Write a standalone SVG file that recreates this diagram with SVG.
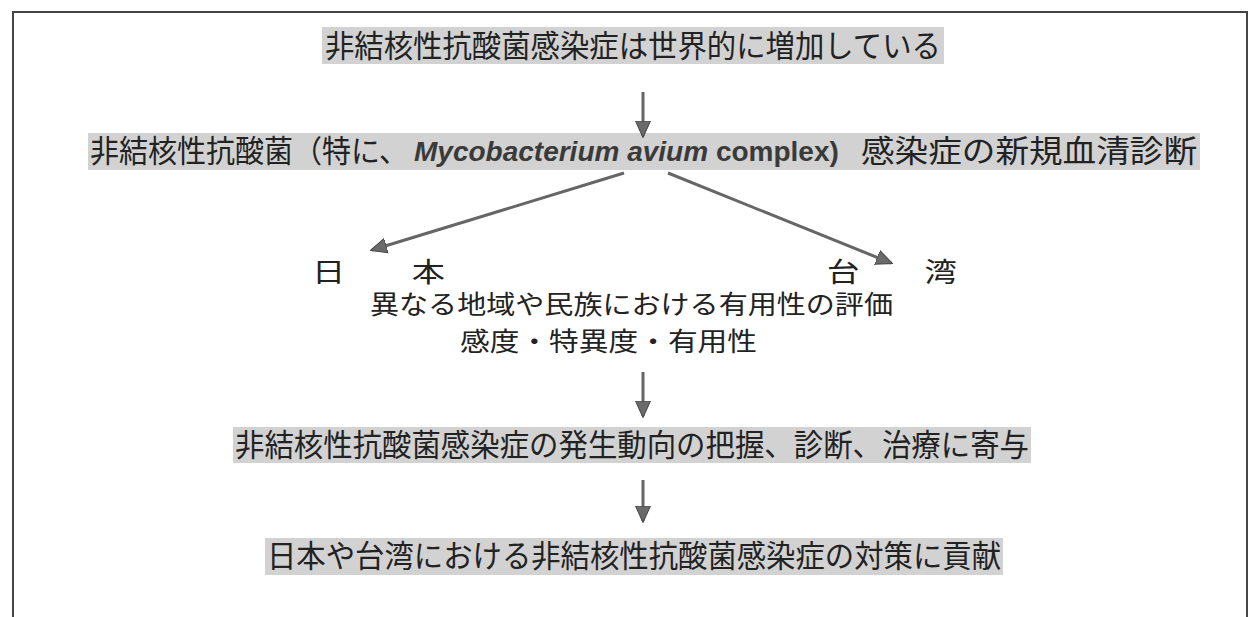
<svg xmlns="http://www.w3.org/2000/svg" width="1249" height="617" viewBox="0 0 1249 617">
<defs>
<marker id="ah" viewBox="0 0 10 10" refX="9" refY="5" markerWidth="5.5" markerHeight="5.5" markerUnits="strokeWidth" orient="auto">
<path d="M0,0.5 L10,5 L0,9.5 z" fill="#6a6a6a" stroke="#444" stroke-width="0.6"/>
</marker>
<style>
.jp{font-family:"Noto Sans CJK JP","Noto Sans",sans-serif;fill:#222;}
.band{fill:#d2d2d2;}
.lat{font-family:"Liberation Sans",Arial,sans-serif;font-weight:bold;fill:#3a3a3a;}
.conn{stroke:#666;stroke-width:3;fill:none;marker-end:url(#ah);}
</style>
</defs>
<rect width="1249" height="617" fill="#fff"/>
<path d="M13,617 V12 H1247 V617" fill="none" stroke="#444" stroke-width="2"/>
<g id="node1">
<rect class="band" x="322" y="27" width="622" height="37"/>
<text class="jp" x="325" y="57" font-size="31" textLength="616" lengthAdjust="spacingAndGlyphs">非結核性抗酸菌感染症は世界的に増加している</text>
</g>
<g id="node2">
<rect class="band" x="88" y="133" width="1112" height="37"/>
<text class="jp" x="90" y="162" font-size="31" textLength="318" lengthAdjust="spacingAndGlyphs">非結核性抗酸菌（特に、</text>
<text class="lat" x="414" y="161" font-size="28"><tspan font-style="italic">Mycobacterium avium</tspan> complex)</text>
<text class="jp" x="861" y="162" font-size="31" textLength="336" lengthAdjust="spacingAndGlyphs">感染症の新規血清診断</text>
</g>
<g id="node3">
<text class="jp" x="312" y="282" font-size="27" textLength="133" lengthAdjust="spacingAndGlyphs">日　　本</text>
<text class="jp" x="827" y="282" font-size="27" textLength="130" lengthAdjust="spacingAndGlyphs">台　　湾</text>
<text class="jp" x="370" y="314" font-size="26" textLength="523" lengthAdjust="spacingAndGlyphs">異なる地域や民族における有用性の評価</text>
<text class="jp" x="460" y="351" font-size="26" textLength="297" lengthAdjust="spacingAndGlyphs">感度・特異度・有用性</text>
</g>
<g id="node4">
<rect class="band" x="233" y="427" width="798" height="36"/>
<text class="jp" x="235" y="456" font-size="31" textLength="794" lengthAdjust="spacingAndGlyphs">非結核性抗酸菌感染症の発生動向の把握、診断、治療に寄与</text>
</g>
<g id="node5">
<rect class="band" x="265" y="538" width="738" height="37"/>
<text class="jp" x="267" y="567" font-size="31" textLength="734" lengthAdjust="spacingAndGlyphs">日本や台湾における非結核性抗酸菌感染症の対策に貢献</text>
</g>
<g id="connectors">
<line class="conn" x1="643" y1="92" x2="643" y2="136"/>
<line class="conn" x1="624" y1="173" x2="372" y2="250"/>
<line class="conn" x1="668" y1="173" x2="891" y2="263"/>
<line class="conn" x1="643" y1="372" x2="643" y2="416"/>
<line class="conn" x1="643" y1="480" x2="643" y2="521"/>
</g>
</svg>
